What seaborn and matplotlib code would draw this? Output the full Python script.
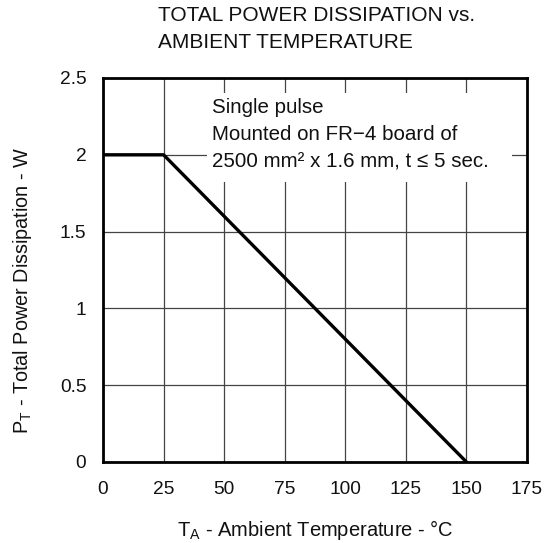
import matplotlib
matplotlib.use("Agg")
import matplotlib.pyplot as plt
import matplotlib.patches as mpatches
import seaborn as sns
import pandas as pd

# Data
temperature = [0, 25, 150]
power = [2.0, 2.0, 0.0]
x_ticks = [0, 25, 50, 75, 100, 125, 150, 175]
y_ticks = [0, 0.5, 1, 1.5, 2, 2.5]
y_tick_labels = ["0", "0.5", "1", "1.5", "2", "2.5"]

sns.set_theme(style="white")
plt.rcParams['font.family'] = ['Liberation Sans', 'DejaVu Sans']
plt.rcParams['mathtext.fontset'] = 'custom'
plt.rcParams['mathtext.rm'] = 'Liberation Sans'

df = pd.DataFrame({"T": temperature, "P": power})

fig = plt.figure(figsize=(5.54, 5.43), dpi=100)
ax = fig.add_axes([103/554, 1-462/543, 424/554, 384/543])

ax.set_xlim(0, 175)
ax.set_ylim(0, 2.5)
ax.set_xticks(x_ticks)
ax.set_yticks(y_ticks)
ax.set_yticklabels(y_tick_labels)
ax.grid(True, color='#444444', linewidth=0.9)
ax.set_axisbelow(True)

sns.lineplot(data=df, x="T", y="P", ax=ax, color='black', linewidth=2.4, zorder=3)

for s in ax.spines.values():
    s.set_color('black')
    s.set_linewidth(2.0)
    s.set_zorder(4)

ax.tick_params(axis='x', length=0, pad=14, labelsize=13.8, colors='#111111')
ax.tick_params(axis='y', length=0, pad=12, labelsize=13.8, colors='#111111')

ax.set_xlabel(r'T$_\mathregular{A}$ - Ambient Temperature - °C', fontsize=14.5, color='#111111')
ax.set_ylabel(r'P$_\mathregular{T}$ - Total Power Dissipation - W', fontsize=14.3, color='#111111')
ax.xaxis.label.set_va('center')
ax.yaxis.label.set_va('center')
ax.xaxis.set_label_coords(0.5, -0.177)
ax.yaxis.set_label_coords(-0.191, 0.448)

# white background behind annotation
ax.add_patch(mpatches.Rectangle((0.245, 0.729), 0.72, 0.232, transform=ax.transAxes,
                                facecolor='white', edgecolor='none', zorder=2))
ax.text(0.257, 0.949, "Single pulse\nMounted on FR\u22124 board of\n2500 mm² x 1.6 mm, t \u2264 5 sec.",
        transform=ax.transAxes, fontsize=14.8, va='top', ha='left', linespacing=1.55,
        color='#111111', zorder=5)

fig.text(158/554, 1-6/543, "TOTAL POWER DISSIPATION vs.\nAMBIENT TEMPERATURE",
         fontsize=15, ha='left', va='top', linespacing=1.5, color='#111111')

fig.savefig("out.png", dpi=100, facecolor='white')
